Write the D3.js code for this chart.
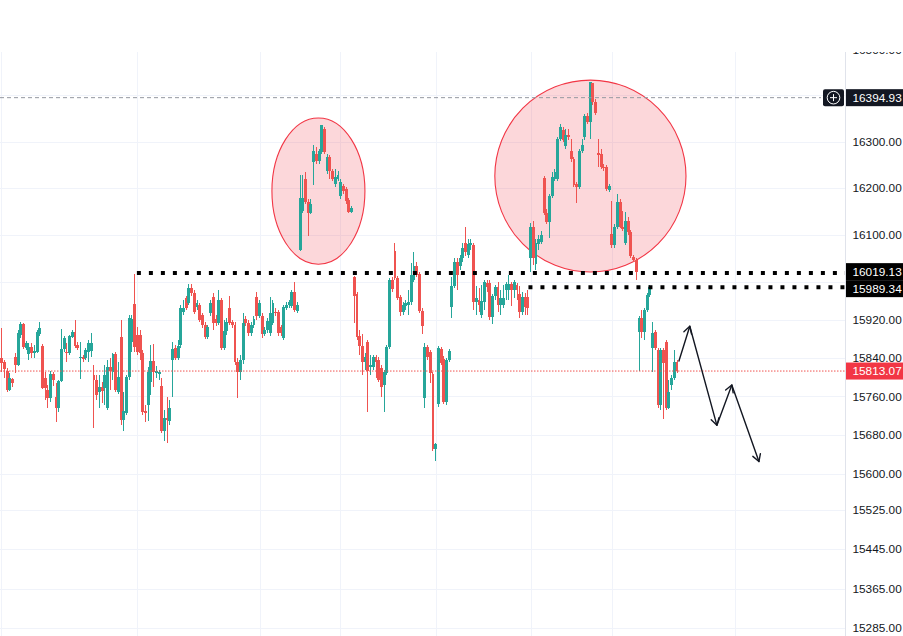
<!DOCTYPE html>
<html><head><meta charset="utf-8">
<script src="https://cdn.jsdelivr.net/npm/d3@7"></script>
<style>html,body{margin:0;padding:0;background:#fff;}svg{display:block;}</style>
</head><body>
<svg id="c" width="903" height="636"></svg>
<script>
const opens=[15840,15832,15813,15773,15796,15842,15826,15889,15912,15861,15849,15863,15851,15853,15891,15865,15798,15773,15756,15807,15758,15735,15792,15859,15853,15851,15884,15895,15868,15840,15842,15840,15853,15855,15805,15794,15769,15779,15777,15737,15821,15811,15849,15769,15884,15712,15725,15800,15874,15954,15889,15889,15851,15729,15742,15790,15834,15809,15807,15781,15689,15716,15710,15836,15861,15840,15868,15937,15966,15956,15987,15977,15947,15952,15931,15910,15884,15935,15968,15922,15914,15962,15861,15897,15945,15916,15910,15832,15811,15836,15922,15914,15893,15910,15968,15928,15928,15891,15899,15893,15914,15937,15937,15905,15882,15945,15952,15949,15979,15939,16069,16151,16220,16170,16146,16256,16273,16258,16278,16327,16237,16267,16237,16209,16220,16183,16204,16198,16174,16149,16010,15975,15886,15865,15832,15874,15821,15821,15842,15836,15819,15784,15809,15863,16004,16067,16008,15968,15937,15949,15952,15958,16004,16035,16017,15939,15756,15863,15853,15807,15651,15744,15859,15838,15748,15836,15947,15991,16043,16035,16052,16082,16058,16078,16078,15958,15962,15931,15958,15998,15998,15926,15970,15989,15952,15952,15983,15983,15996,15983,15994,15975,15937,15968,15968,16052,16116,16039,16080,16086,16222,16146,16127,16183,16220,16220,16306,16325,16290,16314,16280,16263,16209,16202,16280,16310,16355,16342,16426,16385,16275,16273,16245,16245,16196,16103,16078,16116,16170,16118,16084,16129,16106,16054,16047,15895,15924,15895,15941,15973,15861,15895,15857,15742,15857,15874,15737,15784,15798,15832];
const highs=[15903,15836,15819,15809,15798,15851,15899,15916,15914,15876,15872,15872,15868,15899,15916,15870,15811,15784,15813,15811,15788,15794,15901,15886,15872,15889,15899,15920,15874,15874,15847,15861,15878,15893,15826,15805,15805,15790,15826,15836,15840,15851,15853,15832,15920,15769,15805,15931,15931,16017,15905,15899,15857,15742,15821,15868,15870,15823,15815,15798,15731,15758,15752,15874,15868,15878,15952,15962,15970,15996,15996,15983,15962,15956,15935,15916,15910,15962,15977,15931,15983,15966,15920,15924,15970,15920,15916,15840,15847,15935,15928,15920,15916,15928,15979,15962,15935,15905,15924,15968,15962,15945,15941,15910,15952,15958,15962,15983,16000,15958,16228,16228,16235,16177,16177,16293,16288,16284,16336,16331,16273,16271,16241,16241,16237,16220,16209,16202,16179,16161,16012,15979,15899,15891,15851,15878,15847,15847,15847,15842,15826,15815,15868,16008,16010,16082,16012,15973,15958,15962,15983,16041,16063,16043,16021,15945,15872,15868,15857,15811,15664,15865,15863,15844,15840,15859,16010,16052,16052,16058,16082,16116,16091,16091,16082,15991,15987,15994,16004,16004,16004,15975,15994,16000,15983,15994,16000,16015,16000,16004,15998,15991,15979,15977,15983,16125,16129,16091,16099,16108,16226,16155,16187,16235,16241,16310,16338,16331,16327,16327,16305,16267,16213,16284,16305,16359,16361,16430,16426,16392,16305,16284,16252,16250,16209,16172,16123,16187,16177,16151,16149,16138,16110,16058,16052,15928,15941,15945,15977,15994,15916,15899,15861,15861,15861,15878,15794,15805,15857,15836];
const lows=[15811,15798,15769,15771,15779,15809,15823,15882,15859,15857,15836,15840,15840,15851,15886,15775,15752,15735,15748,15781,15706,15727,15790,15853,15832,15847,15882,15861,15857,15796,15832,15836,15832,15842,15695,15752,15737,15746,15742,15731,15773,15794,15769,15765,15700,15689,15721,15794,15853,15853,15847,15836,15721,15706,15710,15763,15779,15798,15794,15685,15668,15664,15700,15758,15836,15836,15861,15931,15941,15952,15970,15933,15941,15916,15903,15880,15880,15928,15899,15907,15910,15857,15857,15889,15910,15903,15826,15756,15794,15828,15907,15886,15886,15903,15920,15924,15882,15886,15893,15886,15910,15928,15886,15886,15878,15941,15945,15945,15937,15935,16065,16146,16166,16097,16144,16207,16252,16252,16273,16273,16230,16220,16215,16202,16215,16177,16187,16166,16146,16146,15914,15878,15847,15805,15815,15727,15805,15815,15798,15790,15758,15727,15805,15859,15979,16004,15962,15928,15931,15941,15931,15952,16000,16010,15935,15891,15735,15836,15788,15647,15626,15739,15826,15744,15742,15832,15924,15987,15983,16026,16043,16056,16052,16069,15941,15931,15937,15924,15941,15979,15920,15912,15962,15937,15931,15945,15962,15962,15949,15966,15962,15924,15931,15931,15931,16021,16037,16026,16069,16080,16142,16123,16093,16179,16215,16215,16301,16299,16284,16303,16256,16202,16168,16198,16275,16303,16338,16305,16379,16357,16245,16241,16237,16194,16192,16073,16073,16112,16114,16108,16078,16099,16052,16043,16004,15813,15882,15878,15937,15968,15811,15857,15735,15731,15714,15731,15733,15773,15794,15809];
const closes=[15830,15817,15773,15798,15788,15826,15893,15912,15863,15872,15863,15851,15855,15895,15903,15777,15777,15756,15807,15794,15735,15792,15859,15882,15851,15886,15895,15865,15861,15842,15838,15857,15872,15872,15794,15763,15779,15771,15805,15821,15813,15849,15773,15800,15712,15729,15800,15924,15922,15863,15853,15851,15727,15725,15811,15834,15811,15813,15811,15689,15716,15712,15735,15859,15840,15865,15945,15945,15945,15987,15977,15937,15956,15920,15910,15884,15905,15956,15914,15914,15962,15861,15897,15916,15914,15910,15832,15811,15836,15914,15914,15893,15910,15922,15928,15956,15891,15899,15918,15935,15956,15935,15893,15893,15947,15952,15958,15979,15941,15952,16179,16179,16170,16146,16166,16280,16258,16280,16336,16278,16267,16237,16220,16224,16228,16213,16194,16172,16149,16157,15970,15884,15865,15832,15842,15813,15826,15842,15832,15794,15779,15811,15863,16004,15985,16008,15966,15937,15952,15956,15958,16015,16035,16015,15939,15907,15863,15842,15809,15651,15662,15861,15830,15748,15836,15855,15991,16043,16015,16052,16073,16063,16080,16084,15958,15966,15952,15960,16000,15989,15926,15970,15989,15952,15966,15966,15996,15996,15983,16000,15983,15937,15968,15947,15945,16118,16052,16084,16091,16101,16146,16127,16183,16224,16235,16306,16331,16303,16314,16310,16263,16207,16202,16280,16293,16355,16342,16430,16385,16361,16271,16245,16243,16198,16204,16078,16116,16170,16118,16112,16129,16106,16056,16047,16021,15924,15895,15941,15973,15989,15893,15861,15742,15857,15830,15737,15769,15798,15832,15813];

const priceTicks=[15285,15365,15445,15525,15600,15680,15760,15840,15920,16000,16100,16200,16300,16400,16500];
const tickLabels=[15285,15365,15445,15525,15600,15680,15760,15840,15920,16100,16200,16300,16500];
const timeGrid=[0,50,95.4,124.9,160.3,195.3,225.2,270.5];
const lastPrice=15813.07;
const markPrice=16394.93;
const levelPrices=[16019.13,15989.34];
const levelStarts=[50,194.4];
const arrowIdx=[249.9,253.9,263.9,269.4,279.4];
const arrowPrice=[15834,15907,15700,15784,15625];
const zoneIdx0=[99.8,182];
const zoneIdx1=[134.1,252.5];
const zoneHi=[16351,16433];
const zoneLo=[16038,16021.4];

const W=903,H=636,plotTop=52,plotRight=845;
const GREEN="#26a69a",RED="#ef5350",TXT="#131722";
const svg=d3.select("#c");
const x=d3.scaleLinear().domain([0,opens.length-1]).range([1.3,676.5]);
const y=d3.scaleLog().domain([15285,16300]).range([628,141.6]);

const defs=svg.append("defs");
defs.append("clipPath").attr("id","plot").append("rect").attr("x",0).attr("y",plotTop).attr("width",plotRight).attr("height",H-plotTop);
defs.append("clipPath").attr("id","axis").append("rect").attr("x",plotRight).attr("y",plotTop).attr("width",W-plotRight).attr("height",H-plotTop);

svg.append("rect").attr("width",W).attr("height",H).attr("fill","#fff");
const plot=svg.append("g").attr("clip-path","url(#plot)");

// grid
plot.append("g").selectAll("line").data(priceTicks).join("line")
  .attr("x1",0).attr("x2",plotRight).attr("y1",d=>Math.round(y(d))+0.5).attr("y2",d=>Math.round(y(d))+0.5)
  .attr("stroke","#f0f3fa").attr("stroke-width",1);
plot.append("g").selectAll("line").data(timeGrid).join("line")
  .attr("x1",d=>Math.round(x(d))+0.5).attr("x2",d=>Math.round(x(d))+0.5).attr("y1",plotTop).attr("y2",H)
  .attr("stroke","#f0f3fa").attr("stroke-width",1);

// zones
const zones=zoneIdx0.map((d,i)=>({i0:d,i1:zoneIdx1[i],hi:zoneHi[i],lo:zoneLo[i]}));
plot.append("g").selectAll("ellipse").data(zones).join("ellipse")
  .attr("cx",d=>(x(d.i0)+x(d.i1))/2).attr("cy",d=>(y(d.hi)+y(d.lo))/2)
  .attr("rx",d=>(x(d.i1)-x(d.i0))/2).attr("ry",d=>(y(d.lo)-y(d.hi))/2)
  .attr("fill","rgba(242,54,69,0.2)").attr("stroke","#f23645").attr("stroke-width",1.1);

// candles
const data=opens.map((o,i)=>({i,o,h:Math.max(highs[i],o,closes[i]),l:Math.min(lows[i],o,closes[i]),c:closes[i]}));
const cg=plot.append("g").attr("shape-rendering","crispEdges");
cg.selectAll("line").data(data).join("line")
  .attr("x1",d=>Math.round(x(d.i))+0.5).attr("x2",d=>Math.round(x(d.i))+0.5)
  .attr("y1",d=>y(d.h)).attr("y2",d=>y(d.l))
  .attr("stroke",d=>d.c>=d.o?GREEN:RED).attr("stroke-width",1);
const bw=2.9;
cg.selectAll("rect").data(data).join("rect")
  .attr("x",d=>x(d.i)-bw/2+0.5).attr("width",bw)
  .attr("y",d=>y(Math.max(d.o,d.c)))
  .attr("height",d=>Math.max(1,y(Math.min(d.o,d.c))-y(Math.max(d.o,d.c))))
  .attr("fill",d=>d.c>=d.o?GREEN:RED);

// price lines
plot.append("line").attr("x1",0).attr("x2",821).attr("y1",y(markPrice)).attr("y2",y(markPrice))
  .attr("stroke","#9598a1").attr("stroke-width",1).attr("stroke-dasharray","4,3");
plot.append("line").attr("x1",0).attr("x2",plotRight).attr("y1",y(lastPrice)).attr("y2",y(lastPrice))
  .attr("stroke",RED).attr("stroke-width",1).attr("stroke-dasharray","1.5,1.5");

// black dotted levels
plot.append("g").selectAll("line").data(levelPrices).join("line")
  .attr("x1",(d,i)=>x(levelStarts[i])).attr("x2",plotRight)
  .attr("y1",d=>y(d)).attr("y2",d=>y(d))
  .attr("stroke","#000").attr("stroke-width",4).attr("stroke-dasharray","4,8");

// arrows
const pts=arrowIdx.map((d,i)=>[x(d),y(arrowPrice[i])]);
const ag=svg.append("g").attr("stroke",TXT).attr("stroke-width",1.4).attr("fill","none").attr("stroke-linecap","round").attr("stroke-linejoin","round");
ag.append("path").attr("d",d3.line()(pts));
for(let k=1;k<pts.length;k++){
  const [x0,y0]=pts[k-1],[x1,y1]=pts[k];
  const a=Math.atan2(y1-y0,x1-x0),L=8,s=Math.PI/6;
  const p1=[x1-L*Math.cos(a-s),y1-L*Math.sin(a-s)],p2=[x1-L*Math.cos(a+s),y1-L*Math.sin(a+s)];
  ag.append("path").attr("d",d3.line()([p1,[x1,y1],p2]));
}

// axis
svg.append("line").attr("x1",plotRight+0.5).attr("x2",plotRight+0.5).attr("y1",plotTop).attr("y2",H)
  .attr("stroke","#e0e3eb").attr("stroke-width",1);
const ax=svg.append("g").attr("clip-path","url(#axis)").attr("font-family","'Liberation Sans',Arial,sans-serif").attr("font-size",11.8);
const LX=852.5;
ax.selectAll("text.t").data(tickLabels).join("text").attr("class","t")
  .attr("x",LX).attr("y",d=>y(d)).attr("dy","0.36em").attr("fill",TXT).text(d=>d.toFixed(2));

// highlighted labels
const bh=17;
function tag(cy,val,bg){
  ax.append("rect").attr("x",plotRight+1).attr("y",cy-bh/2).attr("width",W-plotRight-1).attr("height",bh).attr("fill",bg);
  ax.append("text").attr("x",LX).attr("y",cy).attr("dy","0.36em").attr("fill","#fff").text(val.toFixed(2));
}
tag(y(markPrice),markPrice,TXT);
const ya=y(levelPrices[0]),yb=y(levelPrices[1]),mid=(ya+yb)/2;
tag(mid-bh/2,levelPrices[0],"#000");
tag(mid+bh/2,levelPrices[1],"#000");
tag(y(lastPrice),lastPrice,"#f23645");

// plus button
const by=y(markPrice);
svg.append("rect").attr("x",823).attr("y",by-bh/2).attr("width",21).attr("height",bh).attr("rx",2).attr("fill",TXT);
svg.append("circle").attr("cx",833.5).attr("cy",by).attr("r",6.3).attr("fill","none").attr("stroke","#fff").attr("stroke-width",1);
svg.append("path").attr("d",`M${830},${by}H${837}M${833.5},${by-3.5}V${by+3.5}`).attr("stroke","#fff").attr("stroke-width",1);
</script>
</body></html>
